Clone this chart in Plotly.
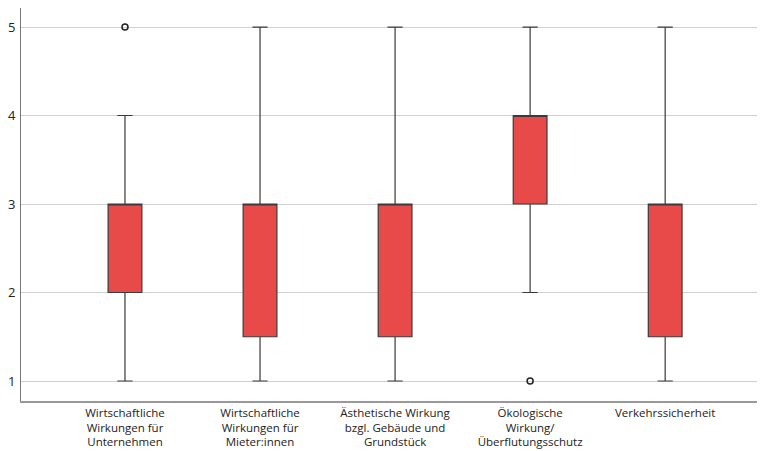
import plotly.graph_objects as go

categories = [
    "Wirtschaftliche<br>Wirkungen für<br>Unternehmen",
    "Wirtschaftliche<br>Wirkungen für<br>Mieter:innen",
    "Ästhetische Wirkung<br>bzgl. Gebäude und<br>Grundstück",
    "Ökologische<br>Wirkung/<br>Überflutungsschutz",
    "Verkehrssicherheit",
]
q1 = [2, 1.5, 1.5, 3, 1.5]
median = [3, 3, 3, 4, 3]
q3 = [3, 3, 3, 4, 3]
lower = [1, 1, 1, 2, 1]
upper = [4, 5, 5, 5, 5]
outlier_x = [categories[0], categories[3]]
outlier_y = [5, 1]
y_ticks = [1, 2, 3, 4, 5]

fig = go.Figure()
fig.add_trace(go.Box(
    x=categories, q1=q1, median=median, q3=q3,
    lowerfence=lower, upperfence=upper,
    fillcolor="#e84a4a",
    line=dict(color="#3a3a3a", width=1.2),
    width=0.25, whiskerwidth=0.45,
    boxpoints=False, showlegend=False,
))
fig.add_trace(go.Scatter(
    x=outlier_x, y=outlier_y, mode="markers",
    marker=dict(symbol="circle-open", size=6, color="#222", line=dict(width=1.5)),
    showlegend=False,
))
fig.update_layout(
    width=759, height=443,
    margin=dict(l=13, r=10, t=0, b=50),
    paper_bgcolor="white", plot_bgcolor="white",
    font=dict(family="Open Sans, Liberation Sans, sans-serif", color="#222"),
    xaxis=dict(
        type="category", range=[-0.77, 4.68], automargin=False,
        showline=True, linecolor="#999", linewidth=1.5,
        showgrid=False, ticks="", tickfont=dict(size=11.5), tickangle=0,
    ),
    yaxis=dict(
        range=[0.774, 5.215], tickvals=y_ticks, automargin=False,
        showline=True, linecolor="#777", linewidth=1,
        showgrid=True, gridcolor="#d0d0d0", gridwidth=1,
        zeroline=False, ticks="", tickfont=dict(size=13), ticklabelstandoff=2,
    ),
)
fig.write_html("out.html")
